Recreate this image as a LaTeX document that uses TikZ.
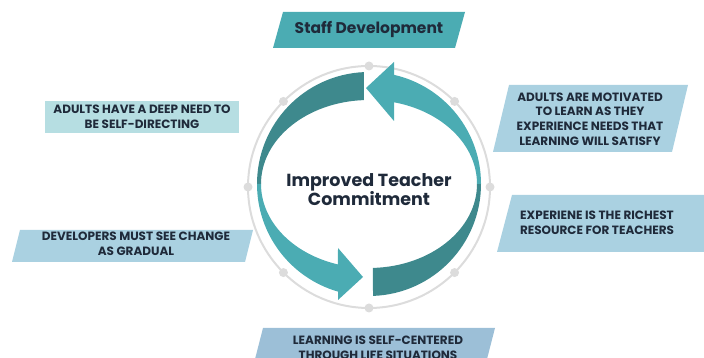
\documentclass[tikz,border=0pt]{standalone}
\usepackage{fontspec}
\setmainfont{Poppins}
\usepackage{tikz}
\usetikzlibrary{calc}
\definecolor{cyclelight}{HTML}{4BACB3}
\definecolor{cycledark}{HTML}{3E898D}
\definecolor{ringgrey}{HTML}{DCDCDC}
\definecolor{inkblue}{HTML}{1F2A3A}
\definecolor{paleblue}{HTML}{AAD1E1}
\definecolor{palecyan}{HTML}{B6DEE2}
\definecolor{dustblue}{HTML}{9CBFD7}
\tikzset{
  lbl/.style={font=\fontsize{12}{14.6}\selectfont\bfseries, text=inkblue,
              align=center, inner sep=0pt},
  hub/.style={font=\fontsize{17.5}{19}\selectfont\bfseries, text=inkblue,
              align=center, inner sep=0pt},
  ring/.style={draw=ringgrey, line width=2pt},
}

\begin{document}
\begin{tikzpicture}[x=1pt, y=1pt]
\useasboundingbox (0,0) rectangle (704,358);
\coordinate (rc) at (369,171);   % grey ring
\coordinate (ac) at (369,174);   % the two arrows

% ---------- ring with its eight beads ------------------------------------
\draw[ring] (rc) circle[radius=121];
\foreach \a in {0,45,...,315}{
  \fill[ringgrey] ($(rc)+(\a:121)$) circle[radius=4.5];}

% ---------- arrows: dark back halves first, light front halves on top ----
\fill[cycledark] ($(ac)+(92.6:112)$) arc[start angle=92.6, end angle=180, radius=112]
   -- ($(ac)+(180:108 and 84)$)
   arc[start angle=180, end angle=92.7, x radius=108, y radius=84] -- cycle;
\fill[cycledark] ($(ac)+(272.05:112)$) arc[start angle=272.05, end angle=360, radius=112]
   -- ($(ac)+(0:108 and 84)$)
   arc[start angle=360, end angle=272.1, x radius=108, y radius=84] -- cycle;
\fill[cyclelight] ($(ac)+(0:112)$) arc[start angle=0, end angle=77.1, radius=112]
   -- (394,296) -- (366,270) -- (394,237) -- ($(ac)+(76.6:108 and 84)$)
   arc[start angle=76.6, end angle=0, x radius=108, y radius=84] -- cycle;
\fill[cyclelight] ($(ac)+(180:112)$) arc[start angle=180, end angle=253.93, radius=112]
   -- (338,58) -- (363,81) -- (338,110) -- ($(ac)+(253.3:108 and 84)$)
   arc[start angle=253.3, end angle=180, x radius=108, y radius=84] -- cycle;

\node[hub] (hub) at (369,168) {Improved Teacher\\Commitment};

% ---------- label bands ---------------------------------------------------
\fill[cyclelight] (273,310) -- (455,310) -- (465,346) -- (283,346) -- cycle;
\node[lbl, font=\fontsize{15.5}{18}\selectfont\bfseries] (staff) at (369,328.5)
   {Staff Development};

\fill[paleblue] (493,206) -- (672,206) -- (688,273) -- (509,273) -- cycle;
\node[lbl] (motiv) at (590,239)
   {ADULTS ARE MOTIVATED\\TO LEARN AS THEY\\EXPERIENCE NEEDS THAT\\LEARNING WILL SATISFY};

\fill[paleblue] (497,106) -- (715,106) -- (730,163) -- (512,163) -- cycle;
\node[lbl] (exper) at (597,135.5)
   {EXPERIENE IS THE RICHEST\\RESOURCE FOR TEACHERS};

\fill[palecyan] (45,225) rectangle (239,257);
\node[lbl] (selfdir) at (142,241)
   {ADULTS HAVE A DEEP NEED TO\\BE SELF-DIRECTING};

\fill[paleblue] (12,96) -- (245,96) -- (253,128) -- (20,128) -- cycle;
\node[lbl] (gradual) at (136,114.5)
   {DEVELOPERS MUST SEE CHANGE\\AS GRADUAL};

\fill[dustblue] (254,-5) -- (486,-5) -- (495,30) -- (263,30) -- cycle;
\node[lbl] (selfcen) at (378,10.5)
   {LEARNING IS SELF-CENTERED\\THROUGH LIFE SITUATIONS};
\end{tikzpicture}
\end{document}
